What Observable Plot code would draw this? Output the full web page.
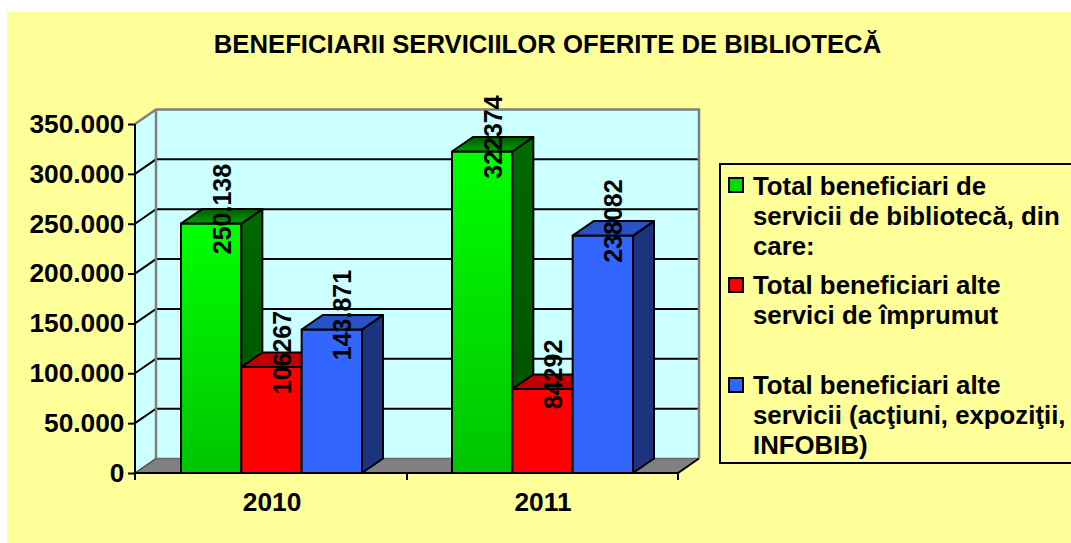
<!DOCTYPE html>
<html>
<head>
<meta charset="utf-8">
<script src="https://cdn.jsdelivr.net/npm/d3@7"></script>
<script src="https://cdn.jsdelivr.net/npm/@observablehq/plot@0.6"></script>
<style>
  html, body { margin: 0; padding: 0; background: #ffffff; width: 1071px; height: 543px; overflow: hidden; }
  #page { position: absolute; left: 7px; top: 12px; right: 0; bottom: 0; background: #FFFF99; }
  #chart { position: absolute; left: 0; top: 0; }
  #title { position: absolute; left: 0; top: 32px; width: 1095px; text-align: center;
           font: bold 25.7px/25px "Liberation Sans", Arial, sans-serif; color: #000; white-space: nowrap; }
  #legend { position: absolute; left: 719px; top: 163px; width: 420px; height: 297px;
            border: 2px solid #000; box-sizing: content-box; }
  .sw { position: absolute; left: 7px; width: 12px; height: 12px; border: 2px solid #000; }
  .txt { position: absolute; left: 32px; white-space: nowrap;
         font: bold 25.8px/30px "Liberation Sans", Arial, sans-serif; color: #000; }
</style>
</head>
<body>
<div id="page"></div>
<div id="chart"></div>
<div id="title"></div>
<div id="legend"></div>
<script>
// ---------------- data ----------------
const chartTitle = "BENEFICIARII SERVICIILOR OFERITE DE BIBLIOTECĂ";
const years = ["2010", "2011"];
const seriesNames = [
  "Total beneficiari de servicii de bibliotecă, din care:",
  "Total beneficiari alte servici de împrumut",
  "Total beneficiari alte servicii (acţiuni, expoziţii, INFOBIB)"
];
const totalBeneficiari = [250138, 322374];
const alteImprumut = [106267, 84292];
const alteServicii = [143871, 238082];
const totalLabels = ["250.138", "322374"];
const imprumutLabels = ["106267", "84292"];
const alteLabels = ["143.871", "238082"];
const yTicks = [0, 50000, 100000, 150000, 200000, 250000, 300000, 350000];
const legendLines = [
  ["Total beneficiari de", "servicii de bibliotecă, din", "care:"],
  ["Total beneficiari alte", "servici de împrumut"],
  ["Total beneficiari alte", "servicii (acţiuni, expoziţii,", "INFOBIB)"]
];

// ---------------- styles ----------------
const CYAN = "#CCFFFF", GRAY = "#808080";
const DX = 21, DY = -14.5;          // 3D depth offset
const PAD_INNER = 1 / 3, PAD_OUTER = 1 / 6;
const faces = [
  {front: "url(#gGreenFront)", top: "url(#gGreenTop)", side: "url(#gGreenSide)"},
  {front: "#FF0000", top: "#C00000", side: "#990000"},
  {front: "#3366FF", top: "#2A52C8", side: "#1C3480"}
];
const swatchColors = ["#00DD00", "#FF0000", "#3366FF"];
const legendTops = [170.5, 270, 370];      // top of first text line box (page coords)
const swatchTops = [176.5, 276.5, 376.5];

// ---------------- table ----------------
const valueSets = [totalBeneficiari, alteImprumut, alteServicii];
const labelSets = [totalLabels, imprumutLabels, alteLabels];
const rows = [];
years.forEach((year, j) => {
  valueSets.forEach((vals, k) => {
    rows.push({year, k, series: seriesNames[k], value: vals[j], label: labelSets[k][j]});
  });
});

const P = pts => pts.map(p => p.join(",")).join(" ");
function bandInfo(x) {
  const step = x(years[1]) - x(years[0]);
  const bw = x.bandwidth ? x.bandwidth() : step * (1 - PAD_INNER);
  return {step, bw, sub: bw / 3};
}

function wallsRender(index, scales, values, dimensions) {
  const {x, y} = scales;
  const {width, marginLeft, marginRight} = dimensions;
  const x0 = marginLeft, x1 = width - marginRight;
  const yb = y(0), yt = y(d3.max(yTicks));
  const g = d3.create("svg:g");
  g.append("polygon").attr("points", P([[x0, yb], [x0, yt], [x0 + DX, yt + DY], [x0 + DX, yb + DY]])).attr("fill", CYAN);
  g.append("rect").attr("x", x0 + DX).attr("y", yt + DY).attr("width", x1 - x0).attr("height", yb - yt).attr("fill", CYAN);
  g.append("polygon").attr("points", P([[x0, yb], [x0 + DX, yb + DY], [x1 + DX, yb + DY], [x1, yb]])).attr("fill", GRAY);
  for (const t of yTicks) {
    if (t <= 0 || t >= d3.max(yTicks)) continue;
    const yy = y(t);
    g.append("polyline").attr("points", P([[x0, yy], [x0 + DX, yy + DY], [x1 + DX, yy + DY]]))
      .attr("fill", "none").attr("stroke", "#000").attr("stroke-width", 2);
  }
  // gray frame of the walls
  g.append("polyline").attr("points", P([[x0, yt], [x0 + DX, yt + DY], [x1 + DX, yt + DY], [x1 + DX, yb + DY]]))
    .attr("fill", "none").attr("stroke", GRAY).attr("stroke-width", 2.5);
  g.append("line").attr("x1", x0 + DX).attr("y1", yt + DY).attr("x2", x0 + DX).attr("y2", yb + DY)
    .attr("stroke", GRAY).attr("stroke-width", 2.5);
  g.append("line").attr("x1", x0 + DX).attr("y1", yb + DY).attr("x2", x1 + DX).attr("y2", yb + DY)
    .attr("stroke", "#6a6a6a").attr("stroke-width", 1.5);
  g.append("line").attr("x1", x0).attr("y1", yb).attr("x2", x0 + DX).attr("y2", yb + DY)
    .attr("stroke", "#404040").attr("stroke-width", 1.2);
  // axes lines
  g.append("line").attr("x1", x0).attr("y1", yt).attr("x2", x0).attr("y2", yb).attr("stroke", "#000").attr("stroke-width", 2);
  g.append("polyline").attr("points", P([[x0, yb], [x1, yb], [x1 + DX, yb + DY]]))
    .attr("fill", "none").attr("stroke", "#000").attr("stroke-width", 2);
  // x category ticks at band boundaries
  const {bw} = bandInfo(x);
  const mid = (x(years[0]) + bw + x(years[1])) / 2;
  for (const xx of [x0, mid, x1]) {
    g.append("line").attr("x1", xx).attr("y1", yb).attr("x2", xx).attr("y2", yb + 7)
      .attr("stroke", "#000").attr("stroke-width", 2);
  }
  return g.node();
}

function barsRender(index, scales) {
  const {x, y} = scales;
  const {sub} = bandInfo(x);
  const g = d3.create("svg:g");
  const defs = g.append("defs");
  const grad = (id, stops) => {
    const lg = defs.append("linearGradient").attr("id", id).attr("x1", 0).attr("y1", 0).attr("x2", 0).attr("y2", 1);
    stops.forEach(([o, c]) => lg.append("stop").attr("offset", o).attr("stop-color", c));
  };
  grad("gGreenFront", [[0, "#00FF00"], [1, "#00C400"]]);
  grad("gGreenTop", [[0, "#005A00"], [1, "#00A000"]]);
  grad("gGreenSide", [[0, "#006A00"], [1, "#004C00"]]);
  const y0 = y(0);
  for (const i of index) {
    const d = rows[i];
    const xs = x(d.year) + d.k * sub, xe = xs + sub, yv = y(d.value);
    const f = faces[d.k];
    const common = s => s.attr("stroke", "#000").attr("stroke-width", 2).attr("stroke-linejoin", "round");
    common(g.append("polygon").attr("points", P([[xs, y0], [xs, yv], [xe, yv], [xe, y0]])).attr("fill", f.front));
    common(g.append("polygon").attr("points", P([[xe, yv], [xe + DX, yv + DY], [xe + DX, y0 + DY], [xe, y0]])).attr("fill", f.side));
    common(g.append("polygon").attr("points", P([[xs, yv], [xs + DX, yv + DY], [xe + DX, yv + DY], [xe, yv]])).attr("fill", f.top));
  }
  return g.node();
}

function labelsRender(index, scales) {
  const {x, y} = scales;
  const {sub} = bandInfo(x);
  const g = d3.create("svg:g").attr("font-size", "25px");
  for (const i of index) {
    const d = rows[i];
    const cx = x(d.year) + (d.k + 0.5) * sub + DX / 2;
    const cy = y(d.value) + DY;
    g.append("text").attr("transform", `translate(${cx},${cy}) rotate(-90)`)
      .attr("text-anchor", "middle").attr("dy", "0.36em").attr("fill", "#000").text(d.label);
  }
  return g.node();
}

const fmt = v => d3.format(",")(v).replace(/,/g, ".");

const chart = Plot.plot({
  width: 719,
  height: 543,
  marginLeft: 135,
  marginRight: 41,
  marginTop: 124,
  marginBottom: 70,
  style: {background: "transparent", fontFamily: "'Liberation Sans', Arial, sans-serif", fontSize: "26.3px", fontWeight: "bold", color: "#000"},
  x: {domain: years, paddingInner: PAD_INNER, paddingOuter: PAD_OUTER},
  y: {domain: [0, d3.max(yTicks)]},
  marks: [
    Plot.ruleY(yTicks, {render: wallsRender}),
    Plot.barY(rows, {x: "year", y: "value", render: barsRender}),
    Plot.text(rows, {x: "year", y: "value", text: "label", render: labelsRender}),
    Plot.axisY({ticks: yTicks, tickFormat: fmt, tickSize: 7, tickPadding: 4, strokeWidth: 2, label: null}),
    Plot.axisX({tickSize: 0, tickPadding: 19, label: null})
  ]
});
document.getElementById("chart").appendChild(chart);

document.getElementById("title").textContent = chartTitle;

const legend = document.getElementById("legend");
const LEG_TOP = 163 + 2; // legend inner top (border included)
legendLines.forEach((lines, k) => {
  const sw = document.createElement("div");
  sw.className = "sw";
  sw.style.top = (swatchTops[k] - LEG_TOP) + "px";
  sw.style.background = swatchColors[k];
  const txt = document.createElement("div");
  txt.className = "txt";
  txt.style.top = (legendTops[k] - LEG_TOP) + "px";
  lines.forEach((ln, i) => {
    if (i) txt.appendChild(document.createElement("br"));
    txt.appendChild(document.createTextNode(ln));
  });
  legend.appendChild(sw);
  legend.appendChild(txt);
});
</script>
</body>
</html>
